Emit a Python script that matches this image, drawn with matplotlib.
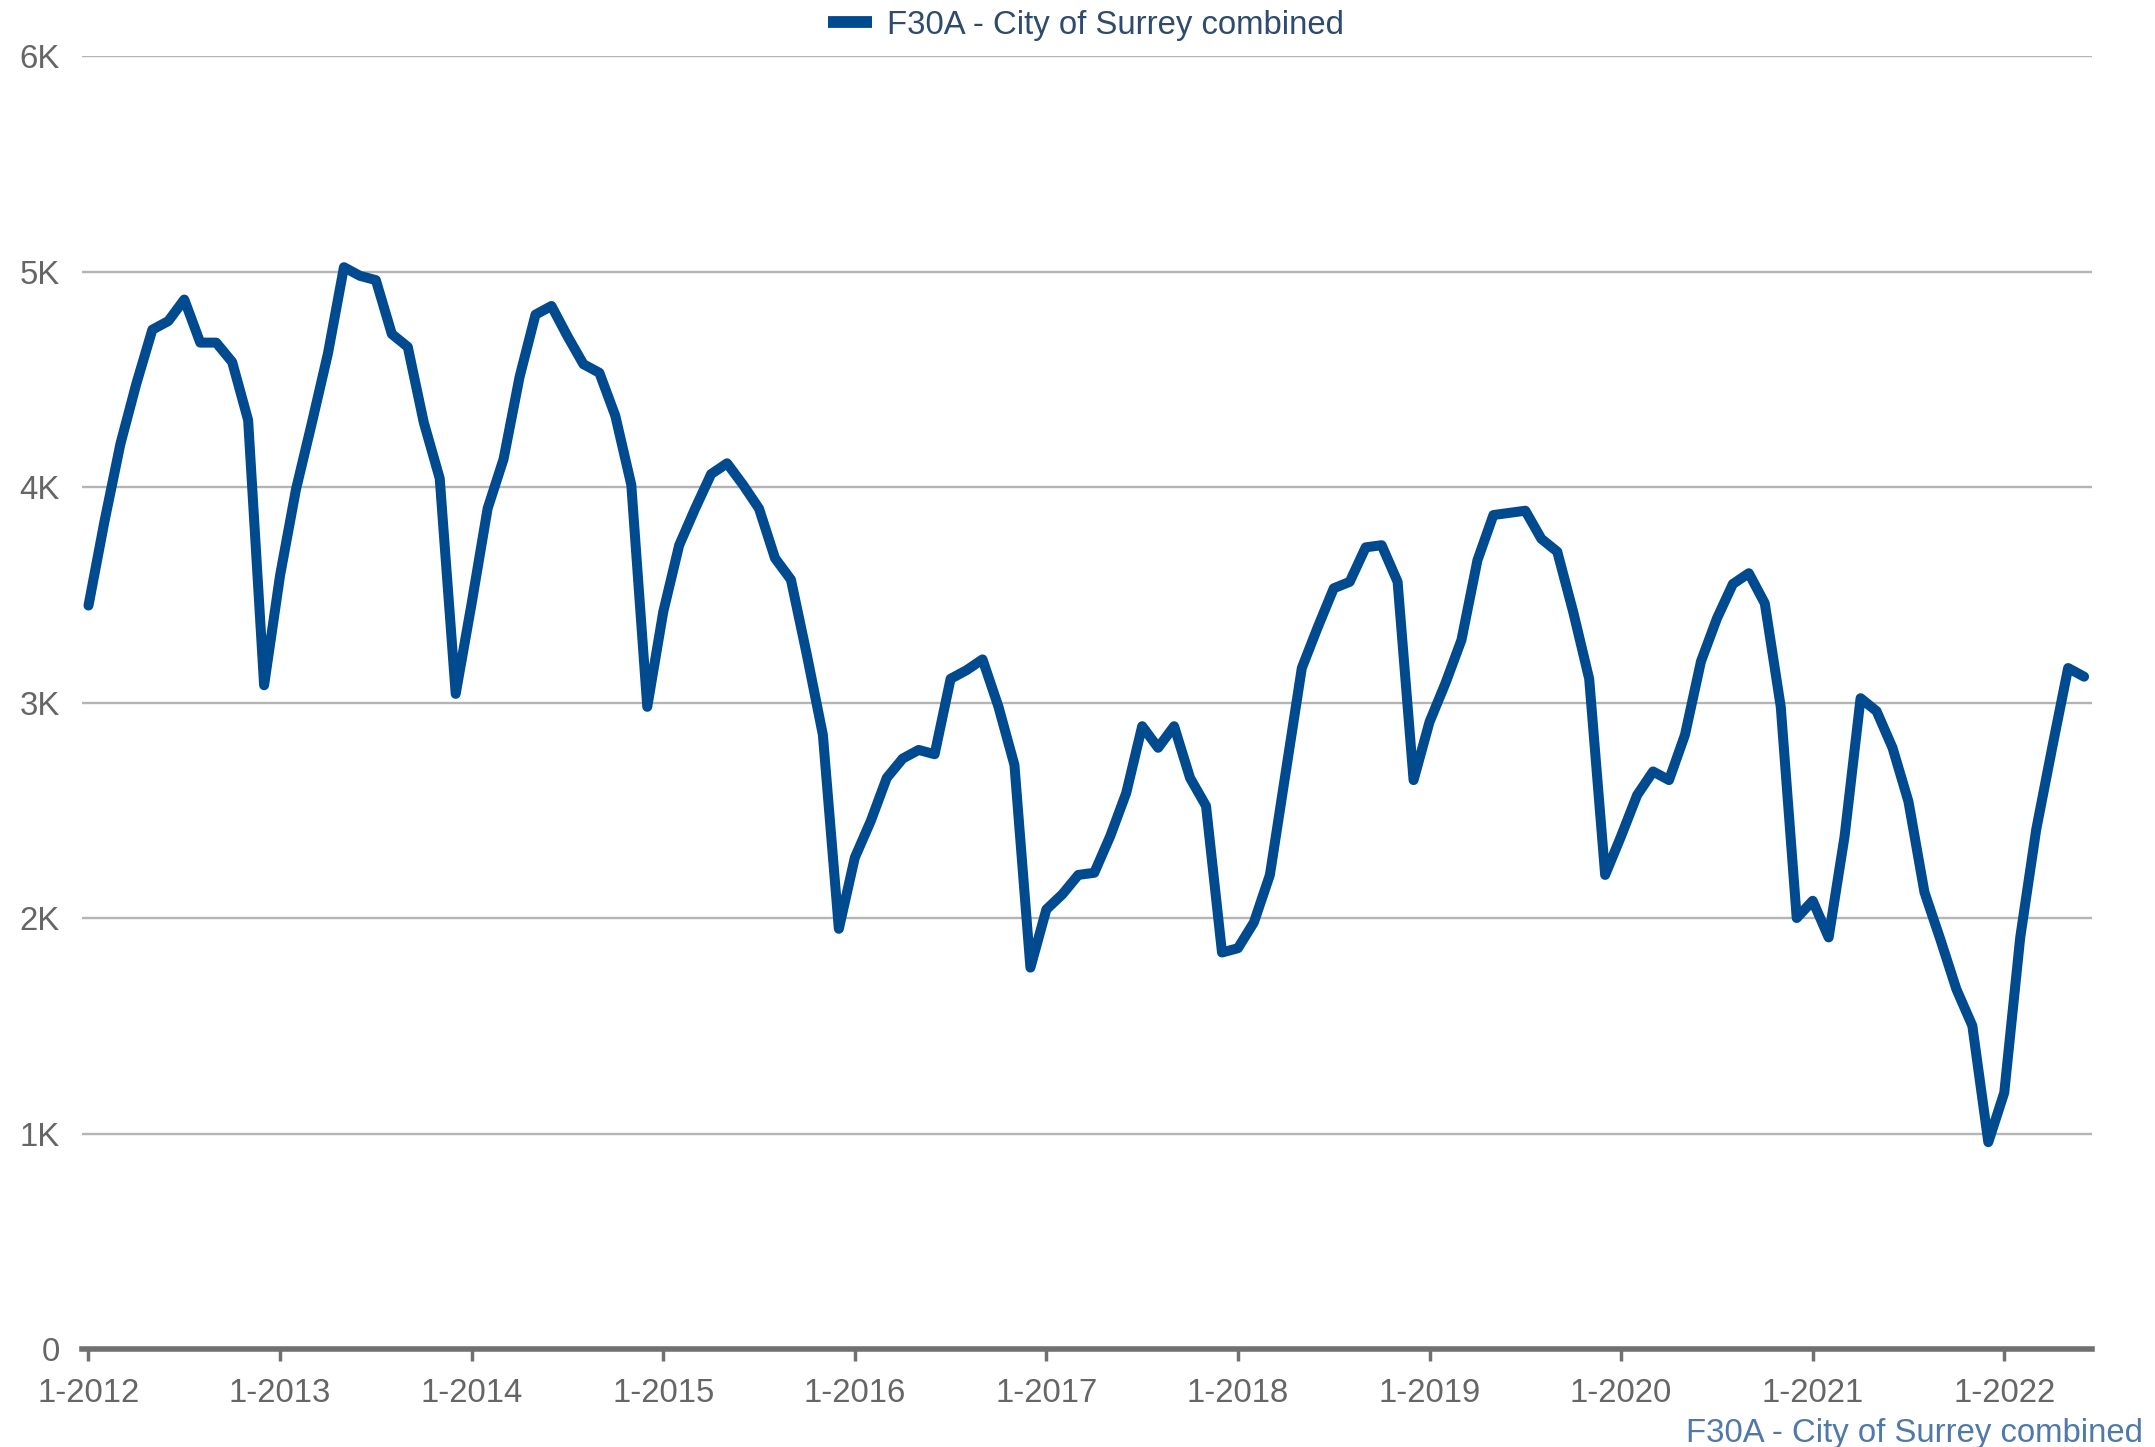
import numpy as np
import matplotlib
matplotlib.use("Agg")
import matplotlib.pyplot as plt
from matplotlib.lines import Line2D
from matplotlib.ticker import FuncFormatter

plt.rcParams['font.family'] = ['Liberation Sans', 'DejaVu Sans']

# monthly values, Jan 2012 .. Jun 2022 (thousands)
series_name = "F30A - City of Surrey combined"
values_k = [
    3.45, 3.84, 4.20, 4.48, 4.73, 4.77, 4.87, 4.67, 4.67, 4.58, 4.31, 3.08,
    3.59, 3.99, 4.30, 4.62, 5.02, 4.98, 4.96, 4.71, 4.65, 4.30, 4.04, 3.04,
    3.46, 3.90, 4.13, 4.51, 4.80, 4.84, 4.70, 4.57, 4.53, 4.33, 4.01, 2.98,
    3.42, 3.73, 3.90, 4.06, 4.11, 4.01, 3.90, 3.67, 3.57, 3.22, 2.85, 1.95,
    2.28, 2.45, 2.65, 2.74, 2.78, 2.76, 3.11, 3.15, 3.20, 2.98, 2.71, 1.77,
    2.04, 2.11, 2.20, 2.21, 2.38, 2.58, 2.89, 2.79, 2.89, 2.65, 2.52, 1.84,
    1.86, 1.98, 2.20, 2.68, 3.16, 3.35, 3.53, 3.56, 3.72, 3.73, 3.56, 2.64,
    2.91, 3.09, 3.29, 3.66, 3.87, 3.88, 3.89, 3.76, 3.70, 3.42, 3.11, 2.20,
    2.38, 2.57, 2.68, 2.64, 2.85, 3.19, 3.39, 3.55, 3.60, 3.46, 2.98, 2.00,
    2.08, 1.91, 2.38, 3.02, 2.96, 2.79, 2.54, 2.12, 1.90, 1.67, 1.50, 0.96,
    1.19, 1.91, 2.41, 2.79, 3.16, 3.12,
]
tick_labels = ["1-2012", "1-2013", "1-2014", "1-2015", "1-2016", "1-2017",
               "1-2018", "1-2019", "1-2020", "1-2021", "1-2022"]
y_ticks = [0, 1000, 2000, 3000, 4000, 5000, 6000]

values = np.array(values_k) * 1000
months = np.arange(len(values))

line_color = "#004A8F"
text_gray = "#666666"
fs = 23.7

fig = plt.figure(figsize=(21.55, 14.47), dpi=100)
ax = fig.add_axes([0.0381, 0.0677, 0.9327, 0.8936])

ax.plot(months, values, color=line_color, lw=7.2, solid_joinstyle='round',
        solid_capstyle='round', zorder=3)

ax.set_xlim(-0.4, 125.5)
ax.set_ylim(0, 6000)

ax.set_yticks(y_ticks)
ax.yaxis.set_major_formatter(FuncFormatter(lambda v, p: "0" if v == 0 else f"{int(v/1000)}K"))
ax.set_xticks(np.arange(0, 121, 12))
ax.set_xticklabels(tick_labels)

for v in y_ticks[1:]:
    ax.axhline(v, color="#B4B4B4", lw=1.7, zorder=1)

for s in ["top", "right", "left"]:
    ax.spines[s].set_visible(False)
ax.spines["bottom"].set_color("#707070")
ax.spines["bottom"].set_linewidth(4)
ax.spines["bottom"].set_zorder(4)

ax.tick_params(axis='y', length=0, pad=16, labelsize=fs, labelcolor=text_gray)
ax.tick_params(axis='x', direction='out', length=8.5, width=2.5, color="#707070",
               pad=12, labelsize=fs, labelcolor=text_gray)

handle = Line2D([], [], color=line_color, lw=8.5, solid_capstyle='butt')
fig.legend(handles=[handle], labels=[series_name], loc='center',
           bbox_to_anchor=(0.504, 0.9825), frameon=False, fontsize=fs,
           handlelength=1.35, handletextpad=0.45, labelcolor="#2E4B6D")

fig.text(0.9945, 0.0095, series_name, ha='right', va='center',
         fontsize=fs, color="#4E79A9")

fig.savefig("out.png", dpi=100)
